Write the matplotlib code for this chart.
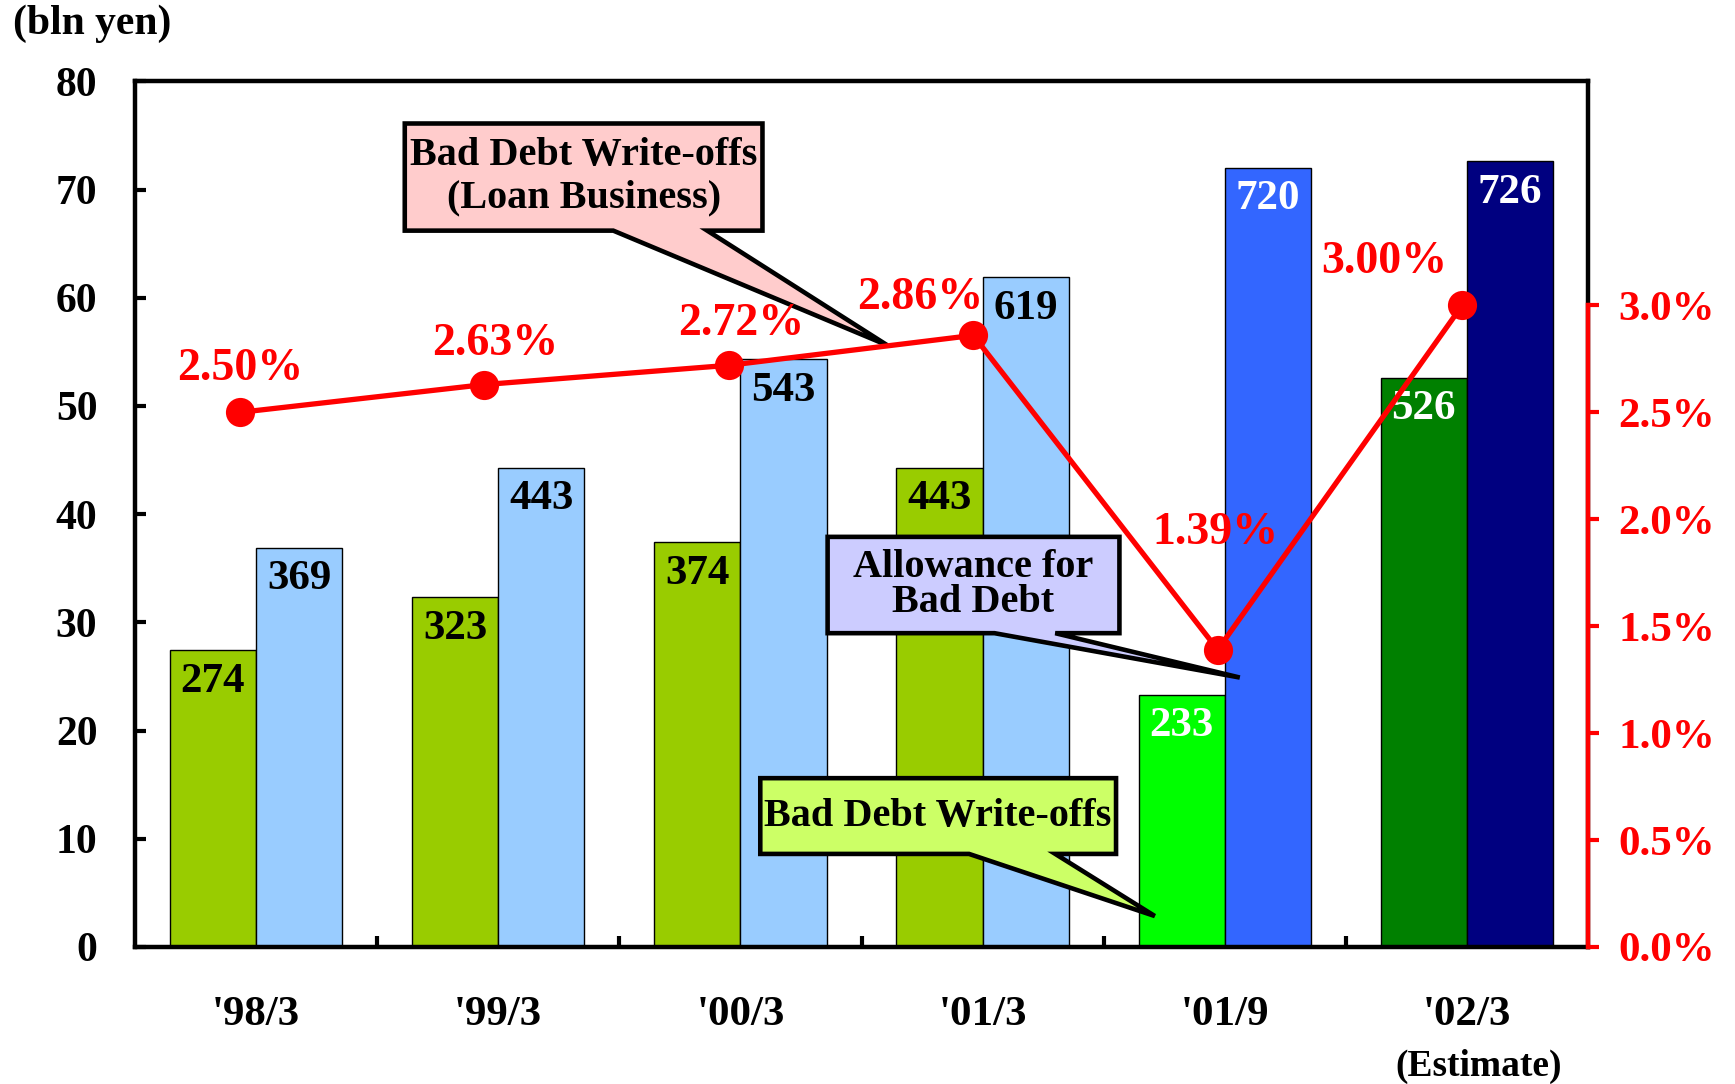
import matplotlib
matplotlib.use('Agg')
import matplotlib.pyplot as plt
import matplotlib.transforms as mtransforms
from matplotlib.patches import Polygon

plt.rcParams['font.family'] = ['Liberation Serif', 'DejaVu Serif']
plt.rcParams['font.weight'] = 'bold'

# ---------------- data ----------------
categories = ["'98/3", "'99/3", "'00/3", "'01/3", "'01/9", "'02/3"]
write_offs = [274, 323, 374, 443, 233, 526]      # 100 mln yen units (axis in 10 bln yen)
allowance = [369, 443, 543, 619, 720, 726]
ratio_pct = [2.50, 2.63, 2.72, 2.86, 1.39, 3.00]
left_ticks = [0, 10, 20, 30, 40, 50, 60, 70, 80]
right_ticks = [0.0, 0.5, 1.0, 1.5, 2.0, 2.5, 3.0]

# ---------------- styles ----------------
green_colors = ['#99CC00', '#99CC00', '#99CC00', '#99CC00', '#00FF00', '#008000']
blue_colors = ['#99CCFF', '#99CCFF', '#99CCFF', '#99CCFF', '#3366FF', '#000080']
label_colors = ['black', 'black', 'black', 'black', 'white', 'white']
pct_offsets = [(0, 31), (8, 29), (9, 30), (-38, 27), (-2, 84), (-56, 31)]

fig = plt.figure(figsize=(17.35, 10.84), dpi=100)
pos = [0.0778, 0.1264, 0.8375, 0.7986]
ax = fig.add_axes(pos)
ax.set_xlim(-0.5, 5.5)
ax.set_ylim(0, 80)

bw = 0.356
xs = list(range(len(categories)))
for i in xs:
    hg = write_offs[i] / 10
    hb = allowance[i] / 10
    ax.bar(i - bw / 2, hg, width=bw, color=green_colors[i], edgecolor='black', linewidth=1, zorder=2)
    ax.bar(i + bw / 2, hb, width=bw, color=blue_colors[i], edgecolor='black', linewidth=1, zorder=2)
    ax.annotate(str(write_offs[i]), (i - bw / 2, hg), xytext=(0, -9), textcoords='offset points',
                ha='center', va='top', fontsize=31, color=label_colors[i], zorder=3)
    ax.annotate(str(allowance[i]), (i + bw / 2, hb), xytext=(0, -9), textcoords='offset points',
                ha='center', va='top', fontsize=31, color=label_colors[i], zorder=3)

for s in ax.spines.values():
    s.set_linewidth(3.2)
    s.set_color('black')

ax.set_yticks(left_ticks)
ax.set_yticklabels([str(t) for t in left_ticks])
ax.tick_params(axis='y', direction='in', length=8, width=3, pad=27, labelsize=30)
ax.set_xticks(xs)
ax.set_xticklabels(categories)
ax.tick_params(axis='x', which='major', length=0, pad=35, labelsize=31)
ax.set_xticks([i + 0.5 for i in xs[:-1]], minor=True)
ax.tick_params(axis='x', which='minor', direction='in', length=8, width=3)

trans = mtransforms.blended_transform_factory(ax.transData, ax.transAxes)
ax.text(5.05, -0.138, '(Estimate)', transform=trans, ha='center', va='center', fontsize=27)

# ---------------- callouts ----------------
def callout(x0, x1, y0, y1, b1, b2, tip, text, color, fs, ls):
    pts = [(x0, y1), (x1, y1), (x1, y0), (b2, y0), tip, (b1, y0), (x0, y0)]
    poly = Polygon(pts, closed=True, facecolor=color, edgecolor='black', linewidth=3.3,
                   joinstyle='miter', zorder=6)
    ax.add_patch(poly)
    ax.text((x0 + x1) / 2, (y0 + y1) / 2, text, ha='center', va='center', fontsize=fs,
            linespacing=ls, zorder=7)

callout(0.614, 2.091, 66.2, 76.1, 1.475, 1.863, (2.607, 55.6),
        'Bad Debt Write-offs\n(Loan Business)', '#FFCCCC', 29, 1.2)
callout(2.360, 3.565, 29.0, 37.9, 3.049, 3.300, (4.062, 24.9),
        'Allowance for\nBad Debt', '#CCCCFF', 29, 0.95)
callout(2.082, 3.551, 8.6, 15.6, 2.944, 3.300, (3.711, 2.86),
        'Bad Debt Write-offs', '#CCFF66', 29, 1.0)

# ---------------- ratio line (right axis) ----------------
ax2 = fig.add_axes(pos)
ax2.patch.set_alpha(0)
ax2.set_xlim(-0.4295, 5.515)
ax2.set_ylim(0, 4.048)
ax2.plot(xs, ratio_pct, color='#FF0000', linewidth=3.8, marker='o', markersize=21,
         markeredgewidth=0, zorder=8)
for i in xs:
    ax2.annotate('%.2f%%' % ratio_pct[i], (i, ratio_pct[i]), xytext=pct_offsets[i],
                 textcoords='offset points', ha='center', va='center', fontsize=33,
                 color='#FF0000')
for k in ['left', 'top', 'bottom']:
    ax2.spines[k].set_visible(False)
ax2.spines['right'].set_color('#FF0000')
ax2.spines['right'].set_linewidth(3.2)
ax2.spines['right'].set_bounds(0, 3.0)
ax2.set_xticks([])
ax2.yaxis.tick_right()
ax2.set_yticks(right_ticks)
ax2.set_yticklabels(['%.1f%%' % t for t in right_ticks])
ax2.tick_params(axis='y', direction='out', length=8, width=3, color='#FF0000',
                labelcolor='#FF0000', pad=14, labelsize=31)

fig.text(13 / 1735, 1 - 24 / 1084, '(bln yen)', ha='left', va='center', fontsize=30)

fig.savefig('out.png', dpi=100)
